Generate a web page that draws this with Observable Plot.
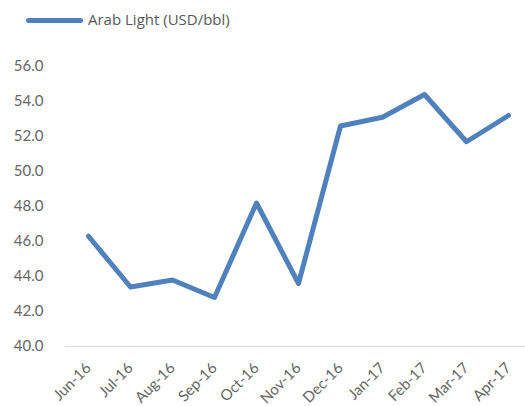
<!DOCTYPE html>
<html>
<head>
<meta charset="utf-8">
<script src="https://cdn.jsdelivr.net/npm/d3@7"></script>
<script src="https://cdn.jsdelivr.net/npm/@observablehq/plot@0.6"></script>
<style>
  html, body { margin: 0; padding: 0; background: #fff; }
  #legend { position: relative; height: 40px; width: 525px; }
  #legend .sw { position: absolute; left: 26px; top: 18px; width: 57px; height: 5px; border-radius: 3px; background: #4F81BD; }
  #legend .lb { position: absolute; left: 88px; top: 9px; font-family: "Open Sans", sans-serif; font-size: 15px; color: #595959; line-height: 20px; }
</style>
</head>
<body>
<div id="legend"><div class="sw"></div><div class="lb"></div></div>
<div id="chart"></div>
<script>
const seriesName = "Arab Light (USD/bbl)";
const months = ["Jun-16","Jul-16","Aug-16","Sep-16","Oct-16","Nov-16","Dec-16","Jan-17","Feb-17","Mar-17","Apr-17"];
const prices = [46.3, 43.4, 43.8, 42.8, 48.2, 43.6, 52.6, 53.1, 54.4, 51.7, 53.2];
const yTicks = [40, 42, 44, 46, 48, 50, 52, 54, 56];

document.querySelector("#legend .lb").textContent = seriesName;

const data = months.map((m, i) => ({month: m, price: prices[i]}));

const chart = Plot.plot({
  width: 525,
  height: 366,
  marginTop: 26,
  marginBottom: 60,
  marginLeft: 65,
  marginRight: -5,
  style: {fontFamily: "Lato, sans-serif", fontSize: "15px", color: "#666666", background: "#fff"},
  x: {type: "point", domain: months, padding: 0.5, label: null},
  y: {domain: [40, 56], label: null},
  marks: [
    Plot.ruleY([40], {stroke: "#d9d9d9", strokeWidth: 1}),
    Plot.axisY({ticks: yTicks, tickFormat: d3.format(".1f"), tickSize: 0, tickPadding: 22, label: null, fontSize: 15, fill: "#666666"}),
    Plot.axisX({tickSize: 0, tickRotate: -45, tickPadding: 19, label: null, fontSize: 15, fill: "#666666"}),
    Plot.line(data, {x: "month", y: "price", stroke: "#4F81BD", strokeWidth: 5, strokeLinecap: "round", strokeLinejoin: "round"})
  ]
});
document.getElementById("chart").appendChild(chart);
</script>
</body>
</html>
